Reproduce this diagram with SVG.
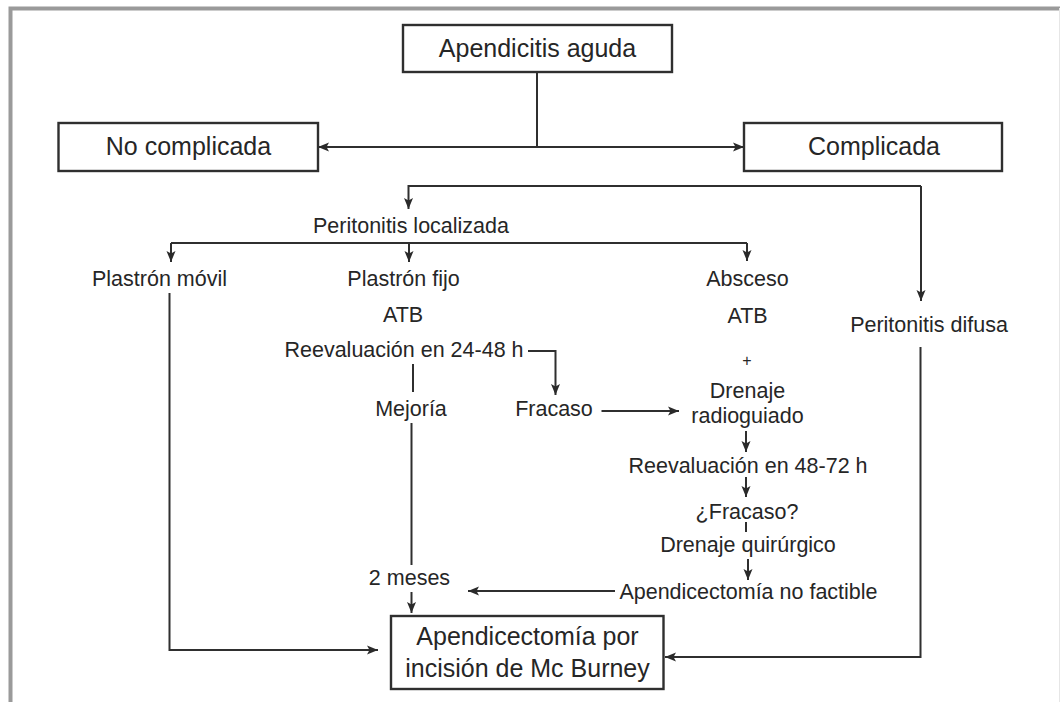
<svg xmlns="http://www.w3.org/2000/svg" width="1060" height="702" viewBox="0 0 1060 702">
<defs>
<marker id="ah" markerUnits="userSpaceOnUse" markerWidth="12" markerHeight="10" refX="11" refY="5" orient="auto">
<path d="M0,0.5 L11,5 L0,9.5 L2.5,5 Z" fill="#2a2a2a"/>
</marker>
<style>
.box{fill:#fff;stroke:#2f2f2f;stroke-width:2.4}
.hd{font-family:"Liberation Sans",Arial,sans-serif;font-size:25px;fill:#262626;text-anchor:middle}
.lb{font-family:"Liberation Sans",Arial,sans-serif;font-size:21.5px;fill:#262626;text-anchor:middle}
.ln{fill:none;stroke:#2f2f2f;stroke-width:2}
.ar{fill:none;stroke:#2f2f2f;stroke-width:2;marker-end:url(#ah)}
.frame{fill:none;stroke:#9a9a9a;stroke-width:4}
</style>
</defs>
<rect width="1060" height="702" fill="#fff"/>
<path class="frame" d="M10.5,702 V8.5 H1060"/>
<line x1="1059.5" y1="8" x2="1059.5" y2="702" stroke="#e6e6e6" stroke-width="1"/>

<g id="connectors">
<path class="ln" d="M537,72 V147"/>
<path class="ar" d="M537,147 H318"/>
<path class="ar" d="M537,147 H744"/>
<path class="ar" d="M921,186 H408.5 V209"/>
<path class="ar" d="M921,186 V301"/>
<path class="ln" d="M171,243 H747"/>
<path class="ar" d="M171,243 V262"/>
<path class="ar" d="M409,243 V262"/>
<path class="ar" d="M747,243 V261"/>
<path class="ar" d="M169.5,293 V650 H378"/>
<path class="ar" d="M528,351 H555.5 V395"/>
<path class="ln" d="M413,364 V392"/>
<path class="ln" d="M411.5,423 V565"/>
<path class="ar" d="M411.5,592 V613"/>
<path class="ar" d="M601.5,411 H679"/>
<path class="ar" d="M746,431 V452"/>
<path class="ar" d="M746,477 V497"/>
<path class="ln" d="M746,522 V532"/>
<path class="ar" d="M748,559 V580"/>
<path class="ar" d="M615,591 H468"/>
<path class="ar" d="M920.5,347 V657 H665"/>
</g>

<g id="n-apendicitis"><rect class="box" x="403" y="25" width="269" height="47"/><text class="hd" x="537.5" y="56.5">Apendicitis aguda</text></g>
<g id="n-nocomplicada"><rect class="box" x="58.5" y="123" width="259.5" height="48"/><text class="hd" x="188.5" y="155">No complicada</text></g>
<g id="n-complicada"><rect class="box" x="744" y="123" width="258" height="48"/><text class="hd" x="874" y="155">Complicada</text></g>
<g id="n-perloc"><text class="lb" x="411" y="233">Peritonitis localizada</text></g>
<g id="n-movil"><text class="lb" x="159.5" y="286">Plastrón móvil</text></g>
<g id="n-fijo"><text class="lb" x="403.5" y="286">Plastrón fijo</text></g>
<g id="n-absceso"><text class="lb" x="747.5" y="286">Absceso</text></g>
<g id="n-atb1"><text class="lb" x="403" y="322">ATB</text></g>
<g id="n-atb2"><text class="lb" x="747.5" y="323">ATB</text></g>
<g id="n-difusa"><text class="lb" x="929" y="332">Peritonitis difusa</text></g>
<g id="n-reev1"><text class="lb" x="404" y="357">Reevaluación en 24-48 h</text></g>
<g id="n-plus"><text class="lb" x="747" y="366" style="font-size:16px">+</text></g>
<g id="n-drenaje"><text class="lb" x="747.5" y="398">Drenaje</text><text class="lb" x="747.5" y="423">radioguiado</text></g>
<g id="n-mejoria"><text class="lb" x="411" y="416">Mejoría</text></g>
<g id="n-fracaso"><text class="lb" x="554" y="416">Fracaso</text></g>
<g id="n-reev2"><text class="lb" x="748" y="473">Reevaluación en 48-72 h</text></g>
<g id="n-fracaso2"><text class="lb" x="747" y="519">¿Fracaso?</text></g>
<g id="n-drenq"><text class="lb" x="748" y="552">Drenaje quirúrgico</text></g>
<g id="n-nofactible"><text class="lb" x="748.5" y="599">Apendicectomía no factible</text></g>
<g id="n-2meses"><text class="lb" x="409.5" y="585">2 meses</text></g>
<g id="n-mcburney"><rect class="box" x="391" y="616" width="272.5" height="73"/><text class="hd" x="527.5" y="645">Apendicectomía por</text><text class="hd" x="527.5" y="677">incisión de Mc Burney</text></g>
</svg>
